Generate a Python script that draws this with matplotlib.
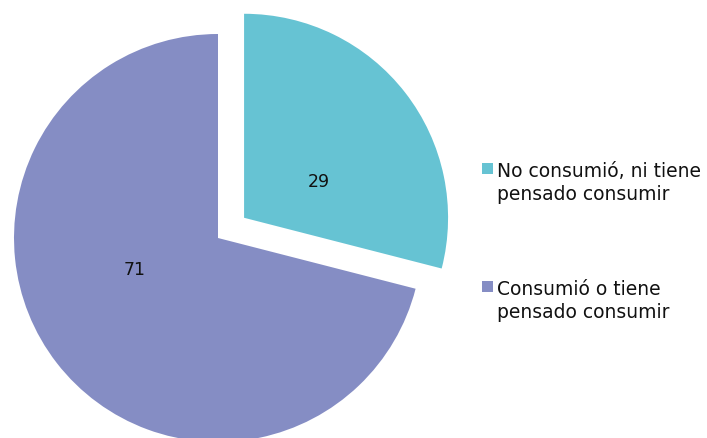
import matplotlib.pyplot as plt
from matplotlib.patches import Rectangle

# data
categories = ['No consumió, ni tiene\npensado consumir', 'Consumió o tiene\npensado consumir']
values = [29, 71]
colors = ['#66C3D3', '#858DC4']

W, H = 707, 439
fig = plt.figure(figsize=(W / 100, H / 100), dpi=100)
ax = fig.add_axes([0, 0, 1, 1])

# pie drawn in pixel-like units (y up)
cx, cy, r = 218, H - 239, 204
ax.pie(values, colors=colors, startangle=90, counterclock=False,
       center=(cx, cy), radius=r, explode=[33, 0],
       wedgeprops=dict(linewidth=0))
ax.set_xlim(0, W)
ax.set_ylim(0, H)
ax.set_aspect('equal')
ax.axis('off')

# value labels (positions as in the reference)
label_pos = [(319, H - 182), (135, H - 270)]
for (x, y), v in zip(label_pos, values):
    ax.text(x, y, str(v), ha='center', va='center', fontsize=12.5, color='#111111')

# legend, drawn by hand
leg_y = [H - 169, H - 287]
for yy, lab, c in zip(leg_y, categories, colors):
    ax.add_patch(Rectangle((482, yy - 5.5), 11, 11, color=c, linewidth=0))
    ax.text(497, yy - 31, lab, ha='left', va='baseline', fontsize=13.5,
            color='#111111', linespacing=1.27)

fig.savefig('out.png', dpi=100)
